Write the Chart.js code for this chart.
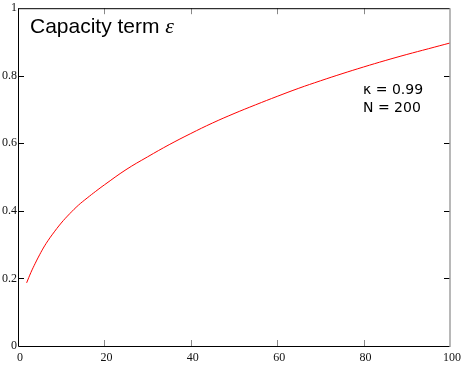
<!DOCTYPE html>
<html>
<head>
<meta charset="utf-8">
<script src="https://cdn.jsdelivr.net/npm/chart.js@4/dist/chart.umd.min.js"></script>
<style>
  html, body { margin: 0; padding: 0; background: #fff; }
  #wrap { width: 464px; height: 372px; }
</style>
</head>
<body>
<div id="wrap"><canvas id="capChart" width="464" height="372"></canvas></div>
<script>
// values
const xValues = [2, 3, 4, 5, 6, 7, 8, 10, 12, 14, 16, 18, 20, 25, 30, 35, 40, 45, 50, 55, 60, 65, 70, 75, 80, 85, 90, 95, 100];
const epsValues = [0.187, 0.218, 0.245, 0.27, 0.293, 0.313, 0.331, 0.364, 0.392, 0.417, 0.438, 0.458, 0.477, 0.522, 0.56, 0.596, 0.629, 0.66, 0.688, 0.714, 0.739, 0.763, 0.785, 0.806, 0.826, 0.845, 0.863, 0.88, 0.897];
const xTicks = [0, 20, 40, 60, 80, 100];
const yTicks = [0, 0.2, 0.4, 0.6, 0.8, 1];
const titleText = 'Capacity term ';
const titleSymbol = 'ε';
const noteLines = ['κ = 0.99', 'N = 200'];

// frame, inward ticks and the text notes
const framePlugin = {
    id: 'frame',
    afterDraw(chart) {
        const ctx = chart.ctx;
        const a = chart.chartArea;
        const xs = chart.scales.x;
        const ys = chart.scales.y;
        ctx.save();

        // tick marks
        ctx.lineWidth = 1;
        ctx.strokeStyle = '#000';
        yTicks.slice(1, -1).forEach(function(v) {
            const py = Math.round(ys.getPixelForValue(v)) + 0.5;
            ctx.beginPath();
            ctx.moveTo(a.left, py); ctx.lineTo(a.left + 6, py);
            ctx.moveTo(a.right, py); ctx.lineTo(a.right - 6, py);
            ctx.stroke();
        });
        ctx.strokeStyle = '#888';
        xTicks.slice(1, -1).forEach(function(v) {
            const px = Math.round(xs.getPixelForValue(v)) + 0.5;
            ctx.beginPath();
            ctx.moveTo(px, a.top); ctx.lineTo(px, a.top + 6);
            ctx.moveTo(px, a.bottom); ctx.lineTo(px, a.bottom - 6);
            ctx.stroke();
        });

        // borders
        ctx.strokeStyle = '#000';
        ctx.beginPath();
        ctx.moveTo(a.left + 0.5, a.top + 0.5);
        ctx.lineTo(a.right, a.top + 0.5);
        ctx.moveTo(a.left + 0.5, a.top);
        ctx.lineTo(a.left + 0.5, a.bottom + 0.5);
        ctx.lineTo(a.right, a.bottom + 0.5);
        ctx.stroke();
        ctx.strokeStyle = '#a0a0a0';
        ctx.lineWidth = 1.5;
        ctx.beginPath();
        ctx.moveTo(a.right, a.top);
        ctx.lineTo(a.right, a.bottom + 1);
        ctx.stroke();

        // title text
        ctx.fillStyle = '#000';
        ctx.textBaseline = 'alphabetic';
        ctx.textAlign = 'left';
        ctx.font = '21px "Liberation Sans"';
        ctx.fillText(titleText, 30, 33);
        const w = ctx.measureText(titleText).width;
        ctx.font = 'italic 22px "Liberation Serif"';
        ctx.fillText(titleSymbol, 30 + w, 33);

        // parameter notes
        ctx.font = '14px "DejaVu Sans"';
        ctx.fillText(noteLines[0], 363, 94);
        ctx.fillText(noteLines[1], 363, 111.5);
        ctx.restore();
    }
};

const axisGrid = { display: true, drawOnChartArea: false, drawTicks: false, tickLength: 0 };

const ctx = document.getElementById('capChart').getContext('2d');
new Chart(ctx, {
    type: 'line',
    data: {
        datasets: [{
            label: 'eps',
            data: xValues.map((x, i) => ({ x: x, y: epsValues[i] })),
            borderColor: 'rgb(255, 0, 0)',
            borderWidth: 1,
            pointRadius: 0,
            fill: false,
            tension: 0.4
        }]
    },
    options: {
        responsive: false,
        animation: false,
        layout: {
            padding: { top: 6, right: 13, left: 0, bottom: 0 }
        },
        plugins: {
            legend: { display: false },
            tooltip: { enabled: false }
        },
        scales: {
            x: {
                type: 'linear',
                min: 0,
                max: 100,
                afterFit: function(scale) { scale.height = 26; },
                afterBuildTicks: function(scale) {
                    scale.ticks = xTicks.map(v => ({ value: v }));
                },
                grid: axisGrid,
                border: { display: false },
                ticks: {
                    color: '#111',
                    padding: 5,
                    labelOffset: 2,
                    maxRotation: 0,
                    autoSkip: false,
                    callback: v => String(v),
                    font: { family: '"Liberation Serif"', size: 12 }
                }
            },
            y: {
                type: 'linear',
                min: 0,
                max: 1,
                afterFit: function(scale) { scale.width = 18; },
                afterBuildTicks: function(scale) {
                    scale.ticks = yTicks.map(v => ({ value: v }));
                },
                grid: axisGrid,
                border: { display: false },
                ticks: {
                    color: '#111',
                    padding: 1,
                    autoSkip: false,
                    callback: v => String(v),
                    font: { family: '"Liberation Serif"', size: 12 }
                }
            }
        }
    },
    plugins: [framePlugin]
});
</script>
</body>
</html>
